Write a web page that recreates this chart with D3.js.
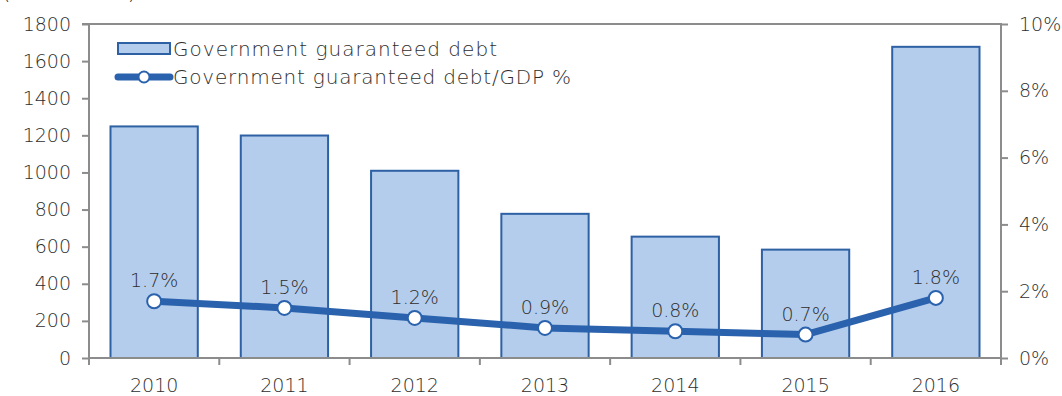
<!DOCTYPE html>
<html>
<head>
<meta charset="utf-8">
<script src="https://cdn.jsdelivr.net/npm/d3@7"></script>
<style>
  html, body { margin: 0; padding: 0; background: #fff; }
  svg { display: block; font-family: "Century Gothic", "URW Gothic", "DejaVu Sans", sans-serif; font-weight: 300; }
</style>
</head>
<body>
<svg id="chart" width="1062" height="396"></svg>
<script>
// Data
const years = ["2010", "2011", "2012", "2013", "2014", "2015", "2016"];
const guaranteedDebt = [1248, 1199, 1009, 777, 654, 584, 1677];
const debtToGdp = [1.7, 1.5, 1.2, 0.9, 0.8, 0.7, 1.8];
const leftTicks = [0, 200, 400, 600, 800, 1000, 1200, 1400, 1600, 1800];
const rightTicks = [0, 2, 4, 6, 8, 10];
const unitLabel = "(EUR million)";
const legendLabels = ["Government guaranteed debt", "Government guaranteed debt/GDP %"];

const svg = d3.select("#chart");
const FONT = "'Century Gothic', 'URW Gothic', 'DejaVu Sans', sans-serif";
const FS = 19;
const margin = { left: 89, right: 61, top: 24 };
const W = 1062;
const x0 = margin.left, x1 = W - margin.right;
const yTop = margin.top, yBot = 358;

const textColor = "#2e2e2e";
const axisColor = "#8c8c8c";
const barFill = "#b4cdec";
const barStroke = "#2e60a4";
const lineColor = "#2a62ad";

const x = d3.scaleBand().domain(years).range([x0, x1]).paddingInner(0.33).paddingOuter(0.165);
const xCat = d3.scaleBand().domain(years).range([x0, x1]);
const yL = d3.scaleLinear().domain([0, 1800]).range([yBot, yTop]);
const yR = d3.scaleLinear().domain([0, 10]).range([yBot, yTop]);

// Unit label at the top edge
svg.append("text")
  .attr("x", 2).attr("y", -1)
  .attr("font-size", 22).attr("fill", textColor)
  .attr("textLength", 134).attr("lengthAdjust", "spacing")
  .text(unitLabel);

// Bars
svg.append("g").selectAll("rect")
  .data(years)
  .join("rect")
  .attr("x", (d) => xCat(d) + xCat.bandwidth() / 2 - x.bandwidth() / 2)
  .attr("y", (d, i) => yL(guaranteedDebt[i]))
  .attr("width", x.bandwidth())
  .attr("height", (d, i) => yBot - yL(guaranteedDebt[i]))
  .attr("fill", barFill)
  .attr("stroke", barStroke)
  .attr("stroke-width", 2);

// Axes
const leftAxis = d3.axisLeft(yL).tickValues(leftTicks).tickSize(7).tickPadding(11).tickFormat(d3.format("d"));
const rightAxis = d3.axisRight(yR).tickValues(rightTicks).tickSize(7).tickPadding(11).tickFormat((d) => d + "%");
const bottomAxis = d3.axisBottom(xCat).tickSize(0).tickPadding(21);

function styleAxis(g) {
  g.select(".domain").attr("stroke", axisColor).attr("stroke-width", 2);
  g.selectAll(".tick line").attr("stroke", axisColor).attr("stroke-width", 2);
  g.selectAll(".tick text").attr("fill", textColor).attr("font-size", FS).attr("font-family", FONT);
}

svg.append("g").attr("transform", `translate(${x0},0)`).call(leftAxis)
  .call((g) => g.select(".domain").attr("d", `M-7,${yTop}H0V${yBot + 1}`))
  .call(styleAxis);

svg.append("g").attr("transform", `translate(${x1},0)`).call(rightAxis)
  .call((g) => g.select(".domain").attr("d", `M-${x1 - x0},${yTop}H0V${yBot + 7}`))
  .call(styleAxis);

const gx = svg.append("g").attr("transform", `translate(0,${yBot})`).call(bottomAxis).call(styleAxis);
gx.select(".domain").attr("d", `M${x0},0H${x1}`);
// Category separators below the baseline
gx.selectAll(".sep")
  .data(years)
  .join("line")
  .attr("class", "sep")
  .attr("x1", (d) => xCat(d)).attr("x2", (d) => xCat(d))
  .attr("y1", 0).attr("y2", 7)
  .attr("stroke", axisColor).attr("stroke-width", 2);

// Ratio line
const cx = (i) => xCat(years[i]) + xCat.bandwidth() / 2;
const line = d3.line().x((d, i) => cx(i)).y((d) => yR(d));
svg.append("path")
  .datum(debtToGdp)
  .attr("d", line)
  .attr("fill", "none")
  .attr("stroke", lineColor)
  .attr("stroke-width", 7)
  .attr("stroke-linejoin", "round");

svg.append("g").selectAll("circle")
  .data(debtToGdp)
  .join("circle")
  .attr("cx", (d, i) => cx(i))
  .attr("cy", (d) => yR(d))
  .attr("r", 7)
  .attr("fill", "#fff")
  .attr("stroke", lineColor)
  .attr("stroke-width", 2);

svg.append("g").selectAll("text")
  .data(debtToGdp)
  .join("text")
  .attr("x", (d, i) => cx(i))
  .attr("y", (d) => yR(d) - 14)
  .attr("text-anchor", "middle")
  .attr("font-size", FS)
  .attr("fill", textColor)
  .text((d) => d.toFixed(1) + "%");

// Legend
const legendWidths = [324, 398];
const lg = svg.append("g");
lg.append("rect").attr("x", 118).attr("y", 43).attr("width", 52).attr("height", 11)
  .attr("fill", barFill).attr("stroke", barStroke).attr("stroke-width", 2);
lg.append("line").attr("x1", 118).attr("x2", 170).attr("y1", 77).attr("y2", 77)
  .attr("stroke", lineColor).attr("stroke-width", 7).attr("stroke-linecap", "round");
lg.append("circle").attr("cx", 144).attr("cy", 77).attr("r", 5.5)
  .attr("fill", "#fff").attr("stroke", lineColor).attr("stroke-width", 2);
lg.selectAll("text")
  .data(legendLabels)
  .join("text")
  .attr("x", 173)
  .attr("y", (d, i) => 56 + i * 28)
  .attr("font-size", 20)
  .attr("fill", textColor)
  .attr("textLength", (d, i) => legendWidths[i])
  .attr("lengthAdjust", "spacing")
  .text((d) => d);
</script>
</body>
</html>
